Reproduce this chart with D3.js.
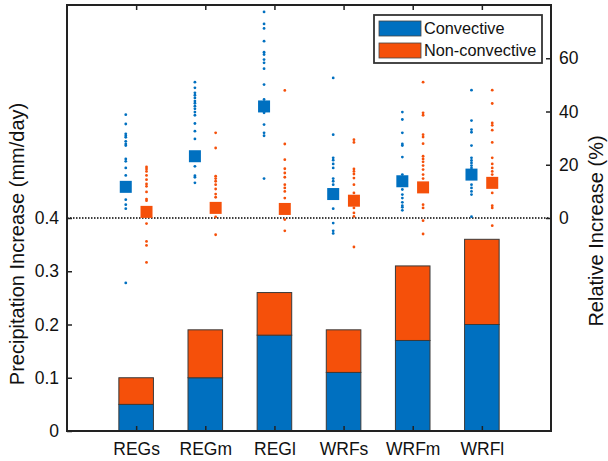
<!DOCTYPE html>
<html>
<head>
<meta charset="utf-8">
<script src="https://cdn.jsdelivr.net/npm/d3@7"></script>
<style>
  body { margin: 0; background: #fff; }
  text { font-family: "Liberation Sans", Arial, Helvetica, sans-serif; }
</style>
</head>
<body>
<div id="chart"></div>
<script>
var categories = ["REGs", "REGm", "REGl", "WRFs", "WRFm", "WRFl"];

// stacked bars (mm/day)
var convBar    = [0.05, 0.10, 0.18, 0.11, 0.17, 0.20];
var nonconvBar = [0.05, 0.09, 0.08, 0.08, 0.14, 0.16];

// mean relative increase (%)
var convMean    = [11.7, 23.2, 41.9, 9.0, 13.8, 16.3];
var nonconvMean = [2.3, 3.8, 3.4, 6.5, 11.5, 13.2];

// individual relative increases (%)
var convPoints = [
  [38.8, 35.3, 31.6, 30.9, 30.3, 28.8, 27.8, 27.2, 22.2, 21.3, 18.8, 16.0, 6.9, 5.0, 3.5, -24.4],
  [51.0, 48.9, 47.0, 46.1, 45.1, 43.9, 43.1, 42.0, 41.0, 39.8, 38.6, 35.5, 32.6, 29.7, 19.4, 15.9, 15.3, 13.2],
  [77.4, 72.9, 71.2, 66.4, 62.3, 61.4, 59.5, 58.3, 56.1, 50.1, 44.5, 39.5, 35.1, 32.0, 30.9, 14.8],
  [52.6, 31.3, 22.6, 21.7, 20.3, 18.8, 14.8, 13.8, 12.5, 3.5, -1.9, -4.8, -5.8],
  [39.8, 37.0, 32.0, 27.8, 27.2, 22.9, 16.3, 10.7, 8.8, 7.5, 5.9, 4.6, 4.0, 2.9],
  [48.0, 36.6, 33.2, 32.2, 27.2, 22.6, 21.6, 20.7, 19.7, 18.8, 12.5, 11.3, 10.0, 8.8, 0.5]
];
var nonconvPoints = [
  [19.2, 18.4, 17.5, 16.0, 14.4, 12.8, 11.9, 9.8, 7.1, 6.5, -2.1, -8.8, -10.3, -16.7],
  [32.0, 26.3, 15.7, 14.8, 13.8, 12.5, 10.9, 9.0, 7.8, 0.4, -6.3],
  [47.9, 27.8, 21.9, 18.5, 16.9, 15.3, 12.5, 11.3, 10.0, 7.5, -0.6, -4.8],
  [29.4, 28.4, 18.4, 17.5, 16.5, 15.0, 12.5, 9.4, 3.8, 1.9, 0.6, -10.9],
  [51.0, 39.5, 38.6, 31.3, 30.4, 27.9, 23.2, 22.2, 21.1, 19.7, 18.2, 16.3, 14.8, 5.0, 3.8, -1.0, -6.0],
  [48.0, 43.0, 35.7, 34.8, 33.0, 28.4, 22.6, 20.3, 18.8, 17.5, 16.3, 11.9, 9.4, 4.6, 3.8, -2.9]
];

var leftTicks = [0, 0.1, 0.2, 0.3, 0.4];
var rightTicks = [0, 20, 40, 60];
var seriesNames = ["Convective", "Non-convective"];

var blue = "#0070C0", orange = "#F5500A";

var W = 608, H = 461;
var margin = {top: 5, right: 57, bottom: 30, left: 67};

var svg = d3.select("#chart").append("svg")
    .attr("width", W)
    .attr("height", H);

var x = d3.scaleLinear().domain([0, 7]).range([margin.left, W - margin.right]);
var yL = d3.scaleLinear().domain([0, 0.8]).range([H - margin.bottom, margin.top]);
var yR = d3.scaleLinear().domain([-80, 80]).range([H - margin.bottom, margin.top]);

var barW = x(0.5) - x(0);

// bars
var barData = categories.map(function(c, i) {
    return {i: i, conv: convBar[i], non: nonconvBar[i]};
});
var bars = svg.append("g");
bars.selectAll("rect.conv")
    .data(barData)
    .enter().append("rect")
    .attr("x", function(d) { return x(d.i + 1) - barW / 2; })
    .attr("y", function(d) { return yL(d.conv); })
    .attr("width", barW)
    .attr("height", function(d) { return yL(0) - yL(d.conv); })
    .attr("fill", blue)
    .attr("stroke", "#3a3a3a")
    .attr("stroke-width", 1);
bars.selectAll("rect.non")
    .data(barData)
    .enter().append("rect")
    .attr("x", function(d) { return x(d.i + 1) - barW / 2; })
    .attr("y", function(d) { return yL(d.conv + d.non); })
    .attr("width", barW)
    .attr("height", function(d) { return yL(d.conv) - yL(d.conv + d.non); })
    .attr("fill", orange)
    .attr("stroke", "#3a3a3a")
    .attr("stroke-width", 1);

// zero line of right axis
svg.append("line")
    .attr("x1", x(0)).attr("x2", x(7))
    .attr("y1", yR(0)).attr("y2", yR(0))
    .attr("stroke", "#000")
    .attr("stroke-width", 1.3)
    .attr("stroke-dasharray", "1.5,1.5");

// points
var off = 0.15;
function drawPoints(points, means, dx, color) {
    var flat = [];
    points.forEach(function(arr, i) {
        arr.forEach(function(v) { flat.push({i: i, v: v}); });
    });
    svg.append("g").selectAll("circle")
        .data(flat)
        .enter().append("circle")
        .attr("cx", function(d) { return x(d.i + 1 + dx); })
        .attr("cy", function(d) { return yR(d.v); })
        .attr("r", 1.4)
        .attr("fill", color);
    svg.append("g").selectAll("rect")
        .data(means)
        .enter().append("rect")
        .attr("x", function(d, i) { return x(i + 1 + dx) - 6; })
        .attr("y", function(d) { return yR(d) - 6; })
        .attr("width", 12)
        .attr("height", 12)
        .attr("fill", color);
}
drawPoints(convPoints, convMean, -off, blue);
drawPoints(nonconvPoints, nonconvMean, off, orange);

// axes
var fmt = function(d) { return d === 0 ? "0" : d.toFixed(1); };

var gL = svg.append("g")
    .attr("transform", "translate(" + x(0) + ",0)")
    .call(d3.axisLeft(yL).tickValues(leftTicks).tickFormat(fmt).tickSizeInner(-5).tickSizeOuter(0).tickPadding(8));
var gR = svg.append("g")
    .attr("transform", "translate(" + x(7) + ",0)")
    .call(d3.axisRight(yR).tickValues(rightTicks).tickSizeInner(-5).tickSizeOuter(0).tickPadding(8));
var gB = svg.append("g")
    .attr("transform", "translate(0," + yL(0) + ")")
    .call(d3.axisBottom(x).tickValues(d3.range(1, 7)).tickFormat(function(d) { return categories[d - 1]; })
        .tickSizeInner(-5).tickSizeOuter(0).tickPadding(12));
var gT = svg.append("g")
    .attr("transform", "translate(0," + yL(0.8) + ")")
    .call(d3.axisTop(x).tickValues(d3.range(1, 7)).tickFormat("").tickSizeInner(-5).tickSizeOuter(0));

[gL, gR, gB, gT].forEach(function(g) {
    g.select(".domain").remove();
    g.selectAll(".tick line").attr("stroke", "#222").attr("stroke-width", 1.5);
    g.selectAll(".tick text").attr("fill", "#111").style("font-size", "17.5px");
});

// box
svg.append("rect")
    .attr("x", x(0)).attr("y", yL(0.8))
    .attr("width", x(7) - x(0))
    .attr("height", yL(0) - yL(0.8))
    .attr("fill", "none")
    .attr("stroke", "#222")
    .attr("stroke-width", 2);

// axis labels
svg.append("text")
    .attr("transform", "translate(17," + 244 + ") rotate(-90)")
    .attr("text-anchor", "middle")
    .attr("dy", "0.35em")
    .style("font-size", "20px")
    .attr("fill", "#111")
    .text("Precipitation Increase (mm/day)");
svg.append("text")
    .attr("transform", "translate(596," + 231 + ") rotate(-90)")
    .attr("text-anchor", "middle")
    .attr("dy", "0.35em")
    .style("font-size", "20px")
    .attr("fill", "#111")
    .text("Relative Increase (%)");

// legend
var leg = svg.append("g").attr("transform", "translate(374,15)");
leg.append("rect")
    .attr("width", 168).attr("height", 48)
    .attr("fill", "#fff")
    .attr("stroke", "#333")
    .attr("stroke-width", 1.8);
[blue, orange].forEach(function(c, i) {
    leg.append("rect")
        .attr("x", 5).attr("y", 6 + i * 22)
        .attr("width", 42).attr("height", 15)
        .attr("fill", c)
        .attr("stroke", "#444")
        .attr("stroke-width", 0.8);
    leg.append("text")
        .attr("x", 50).attr("y", 13.5 + i * 22)
        .attr("dy", "0.35em")
        .style("font-size", "16.3px")
        .attr("fill", "#111")
        .text(seriesNames[i]);
});
</script>
</body>
</html>
